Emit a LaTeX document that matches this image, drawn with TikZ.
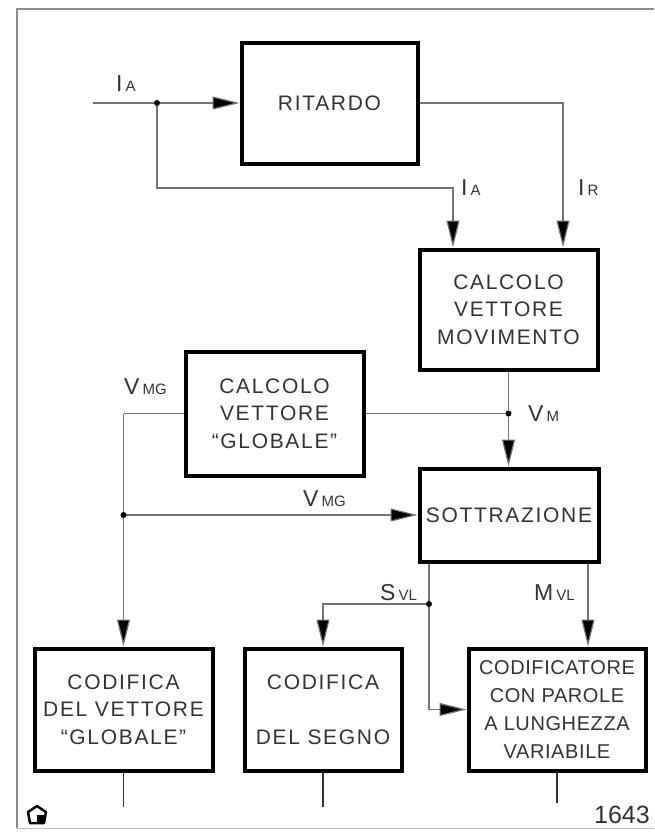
\documentclass[tikz,border=0pt]{standalone}
\usepackage{fontspec}
\setmainfont{Liberation Sans}
\newfontfamily\boxfam{Liberation Sans}[LetterSpace=8]
\newfontfamily\tightfam{Liberation Sans}[LetterSpace=3]
\newfontfamily\labfam{Liberation Sans}
\usetikzlibrary{arrows.meta}
\newcommand{\boxfont}{\boxfam\fontsize{21}{27.5}\selectfont}
\newcommand{\tightfont}{\tightfam\fontsize{20}{27.7}\selectfont}
\newcommand{\lbl}[2]{{\labfam\fontsize{23}{23}\selectfont #1}\hspace{3pt}{\labfam\fontsize{15}{15}\selectfont #2}}
\begin{document}
\begin{tikzpicture}[x=1pt,y=-1pt,
  box/.style={draw=black,line width=4pt,inner sep=0pt,align=center,font=\boxfont,text=black!80},
  conn/.style={draw=black!55,line width=1.2pt},
  arr/.style={-{Triangle[length=27pt,width=13pt,fill=black]}},
  lab/.style={anchor=base west,inner sep=0pt,text=black!80},
  dot/.style={fill=black}]
\useasboundingbox (0,0) rectangle (654,833);
% frame
\draw[black!45,line width=1.5pt] (17,828) -- (17,9) -- (654,9);
\draw[black!25,line width=1pt] (17,828) -- (654,828);
% boxes
\node[box,minimum width=176pt,minimum height=121pt] (rit) at (329.5,103) {RITARDO};
\node[box,minimum width=178pt,minimum height=120pt] (mov) at (508.5,309.5) {CALCOLO\\VETTORE\\MOVIMENTO};
\node[box,minimum width=178pt,minimum height=124pt] (glob) at (274.5,413.5) {CALCOLO\\VETTORE\\“GLOBALE”};
\node[box,minimum width=179pt,minimum height=93pt] (sot) at (509,515) {SOTTRAZIONE};
\node[box,minimum width=178pt,minimum height=122pt] (cgl) at (123.5,709.5) {CODIFICA\\DEL VETTORE\\“GLOBALE”};
\node[box,minimum width=157pt,minimum height=122pt] (cse) at (323,709.5) {CODIFICA\\[27.5pt]DEL SEGNO};
\node[box,minimum width=177pt,minimum height=122pt,font=\tightfont] (cod) at (557,709.5) {CODIFICATORE\\CON PAROLE\\A LUNGHEZZA\\VARIABILE};
% input and delay
\coordinate (in) at (93,103);
\coordinate (jA) at (157,103);
\coordinate (bA) at (157,188);
\coordinate (bA2) at (453,188);
\coordinate (rR) at (563,103);
\draw[conn] (in) -- (jA);
\draw[conn,arr] (jA) -- (rit.west);
\draw[conn,arr] (jA) -- (bA) -- (bA2) -- (bA2 |- mov.north);
\draw[conn,arr] (rit.east) -- (rR) -- (rR |- mov.north);
\fill[dot] (jA) circle (3pt);
% motion vector
\coordinate (jM) at (mov.south |- glob.east);
\draw[conn,arr] (mov.south) -- (mov.south |- sot.north);
\draw[conn] (glob.east) -- (jM);
\fill[dot] (jM) circle (3pt);
% global vector
\coordinate (gL) at (123.5,413.5);
\coordinate (jG) at (gL |- sot.west);
\draw[conn] (glob.west) -- (gL);
\draw[conn,arr] (gL) -- (cgl.north);
\draw[conn,arr] (jG) -- (sot.west);
\fill[dot] (jG) circle (3pt);
% sign
\coordinate (jS) at (429,604);
\coordinate (sB) at (jS |- cod.west);
\draw[conn] (jS |- sot.south) -- (jS);
\draw[conn,arr] (jS) -- (sB) -- (cod.west);
\draw[conn,arr] (jS) -- (jS -| cse.north) -- (cse.north);
\fill[dot] (jS) circle (3pt);
% modulus
\coordinate (mV) at (588,600);
\draw[conn,arr] (mV |- sot.south) -- (mV |- cod.north);
% output stubs
\coordinate (o1) at (123.5,807);
\coordinate (o2) at (323,807);
\coordinate (o3) at (557,803);
\draw[conn,draw=black!80] (cgl.south) -- (o1);
\draw[conn,draw=black!80] (cse.south) -- (o2);
\draw[conn,draw=black!80] (cod.south) -- (o3);
% labels
\node[lab] (lIA1) at (116,91) {\lbl{I}{A}};
\node[lab] (lIA2) at (461,195) {\lbl{I}{A}};
\node[lab] (lIR) at (578,195) {\lbl{I}{R}};
\node[lab] (lVMG1) at (124,394) {\lbl{V}{MG}};
\node[lab] (lVM) at (528,421) {\lbl{V}{M}};
\node[lab] (lVMG2) at (303,506) {\lbl{V}{MG}};
\node[lab] (lSVL) at (380,600) {\lbl{S}{VL}};
\node[lab] (lMVL) at (534,600) {\lbl{M}{VL}};
% number and logo
\node[anchor=east,inner sep=0pt,font=\labfam\fontsize{25}{25}\selectfont,text=black!80] (num) at (650,815) {1643};
\draw[line width=2.5pt,line join=round] (37,806) -- (46,812) -- (44,823) -- (30,823) -- (28,812) -- cycle;
\fill (37,815) -- (44,815) -- (44,823) -- (37,823) -- cycle;
\end{tikzpicture}
\end{document}
